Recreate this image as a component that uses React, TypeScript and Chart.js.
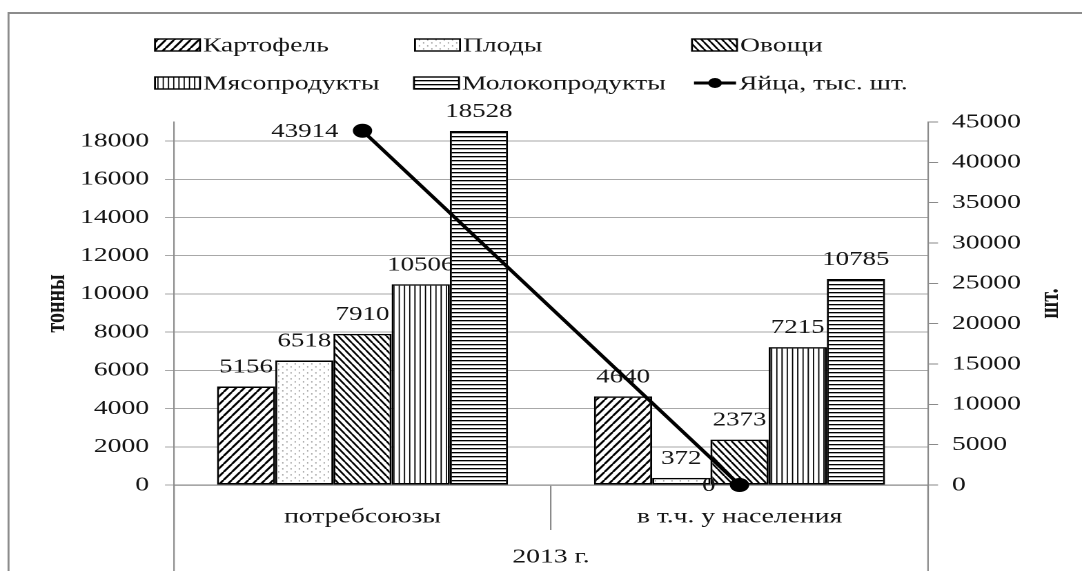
import React, { useEffect, useRef } from 'react';
import { Chart, registerables } from 'chart.js';

Chart.register(...registerables);

// ---------- data ----------
const categories = ['потребсоюзы', 'в т.ч. у населения'];
const groupLabel = '2013 г.';
const seriesNames = ['Картофель', 'Плоды', 'Овощи', 'Мясопродукты', 'Молокопродукты', 'Яйца, тыс. шт.'];
const potatoes = [5156, 4640];
const fruits = [6518, 372];
const vegetables = [7910, 2373];
const meat = [10506, 7215];
const dairy = [18528, 10785];
const eggs = [43914, 0];
const leftAxisMax = 19000;
const leftTicks = [0, 2000, 4000, 6000, 8000, 10000, 12000, 14000, 16000, 18000];
const rightAxisMax = 45000;
const rightTicks = [0, 5000, 10000, 15000, 20000, 25000, 30000, 35000, 40000, 45000];
const leftTitle = 'тонны';
const rightTitle = 'шт.';

// ---------- layout ----------
const W = 1082;
const H = 571;
const CW = 784; // canvas css width, stretched horizontally to W
const S = W / CW;
const X = (p: number) => p / S;
const FONT = '"Liberation Serif", "Times New Roman", serif';
const TXT = '#151515';
const AXIS = '#8a8a8a';
const GRID = '#a8a8a8';

type PatKind = 'fwd' | 'dots' | 'back' | 'vert' | 'horiz';
const patternKinds: PatKind[] = ['fwd', 'dots', 'back', 'vert', 'horiz'];

function makePattern(kind: PatKind): CanvasPattern | string {
  const R = 3;
  let w = 6, h = 8;
  if (kind === 'back') { w = 5; h = 7; }
  if (kind === 'dots') { w = 6; h = 6; }
  if (kind === 'vert') { w = 3.8; h = 4; }
  if (kind === 'horiz') { w = 4; h = 4; }
  const c = document.createElement('canvas');
  c.width = Math.round(w * R);
  c.height = Math.round(h * R);
  const ctx = c.getContext('2d');
  if (!ctx) return '#fff';
  ctx.scale(c.width / w, c.height / h);
  ctx.fillStyle = '#fff';
  ctx.fillRect(0, 0, w, h);
  ctx.strokeStyle = '#000';
  ctx.fillStyle = '#000';
  if (kind === 'fwd' || kind === 'back') {
    ctx.lineWidth = kind === 'fwd' ? 1.7 : 1.5;
    ctx.beginPath();
    for (let k = -1; k <= 1; k++) {
      if (kind === 'fwd') {
        ctx.moveTo(k * w, h);
        ctx.lineTo(k * w + w, 0);
      } else {
        ctx.moveTo(k * w, 0);
        ctx.lineTo(k * w + w, h);
      }
    }
    ctx.stroke();
  } else if (kind === 'dots') {
    ctx.fillStyle = '#444';
    ctx.fillRect(0.5, 0.5, 0.8, 0.8);
    ctx.fillRect(3.5, 3.5, 0.8, 0.8);
  } else if (kind === 'vert') {
    ctx.fillRect(0, 0, 0.9, h);
  } else if (kind === 'horiz') {
    ctx.fillRect(0, 0, w, 1.3);
  }
  const ctx2 = document.createElement('canvas').getContext('2d');
  if (!ctx2) return '#fff';
  const pat = ctx2.createPattern(c, 'repeat');
  if (!pat) return '#fff';
  pat.setTransform(new DOMMatrix([w / c.width, 0, 0, h / c.height, 0, 0]));
  return pat;
}

const legendPos = [
  { x: 155, y: 45 },
  { x: 415, y: 45 },
  { x: 692, y: 45 },
  { x: 155, y: 83 },
  { x: 414, y: 83 },
  { x: 694, y: 83 },
];

const decor = {
  id: 'decor',
  beforeDraw(chart: any) {
    const ctx = chart.ctx as CanvasRenderingContext2D;
    const { left, right, bottom } = chart.chartArea;
    ctx.save();
    ctx.fillStyle = '#fff';
    ctx.fillRect(0, 0, chart.width, chart.height);
    // outer frame
    ctx.strokeStyle = '#8c8c8c';
    ctx.lineWidth = 2;
    ctx.beginPath();
    ctx.moveTo(X(8), 13);
    ctx.lineTo(chart.width + 5, 13);
    ctx.stroke();
    ctx.lineWidth = X(2);
    ctx.beginPath();
    ctx.moveTo(X(8.5), 12);
    ctx.lineTo(X(8.5), chart.height + 5);
    ctx.stroke();
    // multi-level category axis extensions
    ctx.strokeStyle = AXIS;
    ctx.lineWidth = X(1.5);
    ctx.beginPath();
    ctx.moveTo(left, bottom);
    ctx.lineTo(left, chart.height + 2);
    ctx.moveTo(right, bottom);
    ctx.lineTo(right, chart.height + 2);
    ctx.stroke();
    ctx.restore();
  },
  beforeDatasetsDraw(chart: any) {
    const ctx = chart.ctx as CanvasRenderingContext2D;
    ctx.save();
    ctx.font = `19.5px ${FONT}`;
    ctx.fillStyle = TXT;
    ctx.textAlign = 'center';
    ctx.textBaseline = 'alphabetic';
    chart.data.datasets.forEach((ds: any, i: number) => {
      if (ds.type !== 'bar') return;
      const meta = chart.getDatasetMeta(i);
      meta.data.forEach((el: any, j: number) => {
        ctx.fillText(String(ds.data[j]), el.x, el.y - 14);
      });
    });
    ctx.restore();
  },
  afterDatasetsDraw(chart: any) {
    const ctx = chart.ctx as CanvasRenderingContext2D;
    ctx.save();
    ctx.font = `19.5px ${FONT}`;
    ctx.fillStyle = TXT;
    ctx.textAlign = 'right';
    ctx.textBaseline = 'middle';
    chart.data.datasets.forEach((ds: any, i: number) => {
      if (ds.type !== 'line') return;
      const meta = chart.getDatasetMeta(i);
      meta.data.forEach((el: any, j: number) => {
        ctx.fillText(String(ds.data[j]), el.x - X(24), el.y + 1);
      });
    });
    ctx.restore();
  },
  afterDraw(chart: any) {
    const ctx = chart.ctx as CanvasRenderingContext2D;
    const { top, bottom } = chart.chartArea;
    ctx.save();
    // right axis title (rotated bottom-to-top)
    ctx.font = `bold 20px ${FONT}`;
    ctx.fillStyle = TXT;
    ctx.textAlign = 'center';
    ctx.textBaseline = 'middle';
    ctx.translate(X(1051), (top + bottom) / 2);
    ctx.rotate(-Math.PI / 2);
    ctx.fillText(rightTitle, 0, 0);
    ctx.restore();

    // legend
    ctx.save();
    ctx.font = `20px ${FONT}`;
    ctx.textBaseline = 'middle';
    ctx.textAlign = 'left';
    chart.data.datasets.forEach((ds: any, i: number) => {
      const p = legendPos[i];
      if (!p) return;
      const x0 = X(p.x);
      const sw = X(ds.type === 'bar' ? 45 : 42);
      if (ds.type === 'bar') {
        ctx.fillStyle = ds.backgroundColor;
        ctx.fillRect(x0, p.y - 6, sw, 12);
        ctx.strokeStyle = '#000';
        ctx.lineWidth = 1.4;
        ctx.strokeRect(x0, p.y - 6, sw, 12);
      } else {
        ctx.strokeStyle = '#000';
        ctx.lineWidth = 3;
        ctx.beginPath();
        ctx.moveTo(x0, p.y);
        ctx.lineTo(x0 + sw, p.y);
        ctx.stroke();
        ctx.fillStyle = '#000';
        ctx.beginPath();
        ctx.arc(x0 + sw / 2, p.y, 5, 0, Math.PI * 2);
        ctx.fill();
      }
      ctx.fillStyle = TXT;
      ctx.fillText(ds.label, x0 + sw + X(3), p.y + 1);
    });
    ctx.restore();
  },
};

export default function App() {
  const ref = useRef<HTMLCanvasElement>(null);

  useEffect(() => {
    if (!ref.current) return;
    const barSeries = [potatoes, fruits, vegetables, meat, dairy];
    const datasets: any[] = barSeries.map((data, i) => ({
      type: 'bar',
      label: seriesNames[i],
      data,
      backgroundColor: makePattern(patternKinds[i]),
      borderColor: '#000',
      borderWidth: 1.5,
      borderSkipped: false,
      yAxisID: 'y',
      order: 1,
      categoryPercentage: 0.772,
      barPercentage: 1,
    }));
    datasets.push({
      type: 'line',
      label: seriesNames[5],
      data: eggs,
      borderColor: '#000',
      borderWidth: 3,
      pointRadius: 7,
      pointBackgroundColor: '#000',
      pointBorderColor: '#000',
      pointBorderWidth: 0,
      yAxisID: 'y1',
      order: 0,
      clip: false,
    });

    const tickFont = { family: FONT, size: 20 };
    const plain = (v: any) => String(v);
    const chart = new Chart(ref.current, {
      type: 'bar',
      data: { labels: categories, datasets },
      options: {
        animation: false,
        responsive: true,
        maintainAspectRatio: false,
        devicePixelRatio: 2,
        layout: { padding: { top: 122, left: 0, right: 0, bottom: 0 } },
        plugins: { legend: { display: false }, tooltip: { enabled: false } },
        scales: {
          x: {
            offset: true,
            grid: {
              offset: true,
              drawOnChartArea: false,
              drawTicks: true,
              tickLength: 45,
              color: AXIS,
              lineWidth: X(1.5),
            },
            border: { display: true, color: AXIS, width: 1.3 },
            ticks: { font: tickFont, color: TXT, padding: -25, maxRotation: 0, autoSkip: false },
            title: {
              display: true,
              text: groupLabel,
              font: { family: FONT, size: 20 },
              color: TXT,
              padding: { top: 0, bottom: 2 },
            },
            afterFit: (s: any) => { s.height = H - 485; },
          },
          y: {
            position: 'left',
            min: 0,
            max: leftAxisMax,
            afterBuildTicks: (s: any) => { s.ticks = leftTicks.map((v) => ({ value: v })); },
            ticks: { font: tickFont, color: TXT, padding: X(16), callback: plain },
            grid: { color: GRID, lineWidth: 1, tickLength: X(9), tickColor: GRID },
            border: { display: true, color: AXIS, width: X(1.5) },
            title: {
              display: true,
              text: leftTitle,
              font: { family: FONT, size: 20, weight: 'bold' },
              color: TXT,
              padding: { top: X(57) - 12, bottom: 0 },
            },
            afterFit: (s: any) => { s.width = X(174); },
          },
          y1: {
            position: 'right',
            min: 0,
            max: rightAxisMax,
            afterBuildTicks: (s: any) => { s.ticks = rightTicks.map((v) => ({ value: v })); },
            ticks: { font: tickFont, color: TXT, padding: X(14), callback: plain },
            grid: { drawOnChartArea: false, color: AXIS, lineWidth: 1, tickLength: X(10) },
            border: { display: true, color: AXIS, width: X(1.5) },
            afterFit: (s: any) => { s.width = X(W - 928); },
          },
        },
      } as any,
      plugins: [decor],
    });
    return () => chart.destroy();
  }, []);

  return (
    <div style={{ position: 'fixed', left: 0, top: 0, width: W, height: H, overflow: 'hidden', background: '#fff' }}>
      <div
        style={{
          position: 'absolute',
          left: 0,
          top: 0,
          width: CW,
          height: H,
          transform: `scaleX(${S})`,
          transformOrigin: '0 0',
        }}
      >
        <canvas ref={ref} style={{ display: 'block' }} />
      </div>
    </div>
  );
}
